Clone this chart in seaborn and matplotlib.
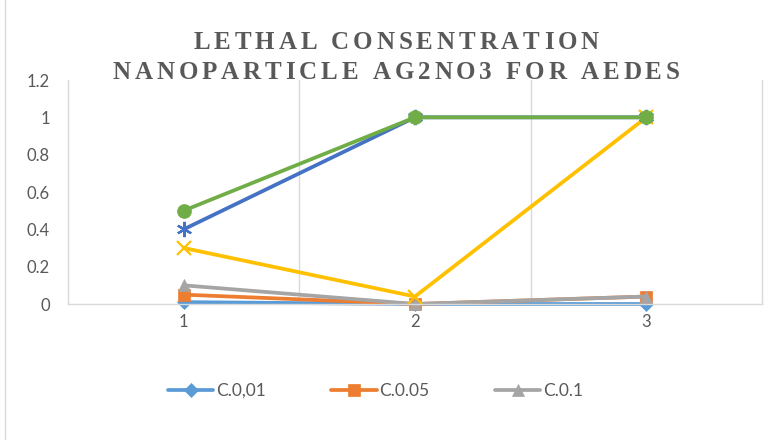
import matplotlib
matplotlib.use("Agg")
import matplotlib.pyplot as plt
from matplotlib import font_manager
from matplotlib.ft2font import FT2Font
import matplotlib.lines as mlines
import seaborn as sns
import pandas as pd

categories = [1, 2, 3]
c001 = [0.01, 0.0, 0.0]
c005 = [0.05, 0.0, 0.04]
c01 = [0.10, 0.0, 0.04]
s_yellow = [0.30, 0.04, 1.0]
s_blue = [0.40, 1.0, 1.0]
s_green = [0.50, 1.0, 1.0]
series_names = ["C.0,01", "C.0.05", "C.0.1", "S4", "S5", "S6"]
title_lines = ["LETHAL CONSENTRATION", "NANOPARTICLE AG2NO3 FOR AEDES"]

sns.set_style("white")
plt.rcParams['font.family'] = ['Lato', 'DejaVu Sans']

W, H, DPI = 768, 440, 100
fig = plt.figure(figsize=(W / DPI, H / DPI), dpi=DPI)
ax = fig.add_axes([68 / W, 1 - 304 / H, (762 - 68) / W, (304 - 80) / H])

values = [c001, c005, c01, s_yellow, s_blue, s_green]
colors = ["#5B9BD5", "#ED7D31", "#A5A5A5", "#FFC000", "#4472C4", "#70AD47"]
markers = ["D", "s", "^", "x", (6, 2, 0), "o"]
msizes = [7, 8.5, 9, 10, 11, 10]
handles = []
for name, vals, col, mk, ms in zip(series_names, values, colors, markers, msizes):
    df = pd.DataFrame({"x": categories, "y": vals})
    lined = mk in ("x", (6, 2, 0))
    sns.lineplot(data=df, x="x", y="y", ax=ax, color=col, linewidth=2.7,
                 marker=mk, markersize=ms, markeredgecolor=col,
                 markeredgewidth=1.6 if lined else 0.5, label=name, legend=False)
    handles.append(ax.lines[-1])

ax.set_xlim(0.5, 3.5)
ax.set_ylim(0, 1.2)
ax.set_yticks([0, 0.2, 0.4, 0.6, 0.8, 1.0, 1.2])
ax.set_yticklabels(["0", "0.2", "0.4", "0.6", "0.8", "1", "1.2"])
ax.set_xticks(categories)
ax.set_xticklabels(["1", "2", "3"])
ax.set_xlabel("")
ax.set_ylabel("")
ax.tick_params(axis="both", length=0, labelsize=12, labelcolor="#595959")
ax.tick_params(axis="x", pad=7)
ax.tick_params(axis="y", pad=13)
for s in ["top", "right", "left"]:
    ax.spines[s].set_visible(False)
ax.spines["bottom"].set_color("#D9D9D9")
ax.spines["bottom"].set_linewidth(1.0)
for xv in [0.5, 1.5, 2.5, 3.5]:
    ax.axvline(xv, color="#D9D9D9", linewidth=1.0, zorder=0)
for ln in ax.lines:
    ln.set_clip_on(False)

fig.legend(handles=handles[:3], labels=series_names[:3], loc="center",
           bbox_to_anchor=(0.489, 1 - 391 / H), ncol=3, frameon=False,
           handlelength=2.6, columnspacing=3.8, handletextpad=0.15,
           prop={"size": 12.5}, labelcolor="#595959", markerscale=1.0)

# title with letter tracking
title_size = 18
tracking_px = 3.9
title_center_px = 396
baselines_px = [49, 79]
fpath = font_manager.findfont(font_manager.FontProperties(family="Liberation Serif", weight="bold"))
ft = FT2Font(fpath)
ft.set_size(title_size, DPI)
for line, base in zip(title_lines, baselines_px):
    adv = [ft.load_char(ord(c)).linearHoriAdvance / 65536.0 for c in line]
    total = sum(adv) + tracking_px * (len(line) - 1)
    x = title_center_px - total / 2
    for c, a in zip(line, adv):
        if c != " ":
            fig.text(x / W, 1 - base / H, c, ha="left", va="baseline",
                     family="Liberation Serif", fontweight="bold",
                     fontsize=title_size, color="#595959")
        x += a + tracking_px

fig.add_artist(mlines.Line2D([5 / W, 5 / W], [0, 1], transform=fig.transFigure,
                             color="#D9D9D9", linewidth=1.0))

fig.savefig("out.png", dpi=DPI)
